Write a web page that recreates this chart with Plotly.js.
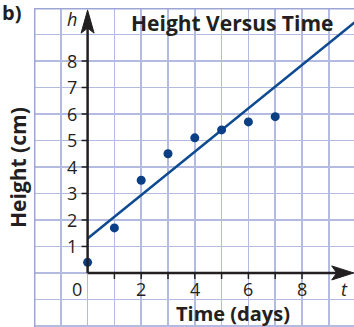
<!DOCTYPE html>
<html>
<head>
<meta charset="utf-8">
<script src="https://cdn.plot.ly/plotly-3.0.1.min.js"></script>
<style>html,body{margin:0;padding:0;background:#fff;}#chart{width:354px;height:327px;}</style>
</head>
<body>
<div id="chart"></div>
<script>
// Data
var days = [0, 1, 2, 3, 4, 5, 6, 7];
var heights = [0.4, 1.7, 3.5, 4.5, 5.1, 5.4, 5.7, 5.9];
// line of best fit (endpoints)
var fitDays = [0, 10.5];
var fitHeights = [1.3, 9.9];
// tick labels
var yTicks = [1, 2, 3, 4, 5, 6, 7, 8];
var xTickMarks = [1, 2, 3, 4, 5, 6, 7, 8];
var xTickLabels = [2, 4, 6, 8];

var ink = '#231f20';
var blue = '#0b3f85';
var gridCol = '#b3bbe0';
var borderCol = '#9da5d5';

var traces = [
  {x: fitDays, y: fitHeights, mode: 'lines', line: {color: '#0d4a8f', width: 2.5}, hoverinfo: 'skip', showlegend: false},
  {x: days, y: heights, mode: 'markers', marker: {color: blue, size: 9}, cliponaxis: false, showlegend: false}
];

var shapes = [];
// thick left and top border
shapes.push({type: 'line', xref: 'x', yref: 'paper', x0: -2, x1: -2, y0: 0, y1: 1, line: {color: borderCol, width: 3}});
shapes.push({type: 'line', xref: 'paper', yref: 'y', x0: 0, x1: 1, y0: 10, y1: 10, line: {color: borderCol, width: 3}});
// axes
shapes.push({type: 'line', xref: 'x', yref: 'y', x0: 0, x1: 9.3, y0: 0, y1: 0, line: {color: ink, width: 2.5}});
shapes.push({type: 'line', xref: 'x', yref: 'y', x0: 0, x1: 0, y0: 0, y1: 9.5, line: {color: ink, width: 2.5}});
// arrowheads (pixel paths anchored at the axis ends)
shapes.push({type: 'path', xref: 'x', yref: 'y', xsizemode: 'pixel', ysizemode: 'pixel', xanchor: 9.93, yanchor: 0,
  path: 'M 0 0 L -22 7 L -17 0 L -22 -7 Z', fillcolor: ink, line: {color: ink, width: 1}});
shapes.push({type: 'path', xref: 'x', yref: 'y', xsizemode: 'pixel', ysizemode: 'pixel', xanchor: 0, yanchor: 9.92,
  path: 'M 0 0 L -6.5 -23 L 0 -18 L 6.5 -23 Z', fillcolor: ink, line: {color: ink, width: 1}});
// tick marks
yTicks.forEach(function (v) {
  shapes.push({type: 'line', xref: 'x', yref: 'y', xsizemode: 'pixel', xanchor: 0, x0: -6, x1: 0, y0: v, y1: v, line: {color: ink, width: 1.5}});
});
xTickMarks.forEach(function (v) {
  shapes.push({type: 'line', xref: 'x', yref: 'y', ysizemode: 'pixel', yanchor: 0, y0: -6, y1: 0, x0: v, x1: v, line: {color: ink, width: 1.5}});
});

var tickFont = {family: 'Open Sans, sans-serif', size: 18, color: ink};
var boldFont = {family: 'Open Sans, sans-serif', size: 20, color: ink, weight: 'bold'};
var annotations = [];
yTicks.forEach(function (v) {
  annotations.push({x: 0, y: v, xref: 'x', yref: 'y', text: String(v), showarrow: false, xanchor: 'right', yanchor: 'middle', xshift: -9, font: tickFont});
});
xTickLabels.forEach(function (v) {
  annotations.push({x: v, y: 0, xref: 'x', yref: 'y', text: String(v), showarrow: false, xanchor: 'center', yanchor: 'top', yshift: -2, font: tickFont});
});
annotations.push({x: 0, y: 0, xref: 'x', yref: 'y', text: '0', showarrow: false, xanchor: 'right', yanchor: 'top', xshift: -4, yshift: -2, font: tickFont});
annotations.push({x: 0, y: 9.6, xref: 'x', yref: 'y', text: '<i>h</i>', showarrow: false, xanchor: 'right', yanchor: 'middle', xshift: -9, font: tickFont});
annotations.push({x: 9.6, y: 0, xref: 'x', yref: 'y', text: '<i>t</i>', showarrow: false, xanchor: 'center', yanchor: 'top', yshift: -2, font: tickFont});
annotations.push({x: 232, y: 23, text: 'Height Versus Time', showarrow: false, font: {family: 'Open Sans, sans-serif', size: 21, color: ink, weight: 'bold'}});
annotations.push({x: 233, y: 313.5, text: 'Time (days)', showarrow: false, font: boldFont});
annotations.push({x: 18, y: 168, text: 'Height (cm)', showarrow: false, textangle: -90, font: {family: 'Open Sans, sans-serif', size: 21, color: ink, weight: 'bold'}});
annotations.push({x: 11, y: 13, text: 'b)', showarrow: false, font: {family: 'Open Sans, sans-serif', size: 20, color: ink, weight: 'bold'}});

// convert pixel-positioned labels to paper coords
var W = 354, H = 327, L = 34, T = 8, R = 0, B = 0;
annotations.forEach(function (a) {
  if (a.xref === undefined || a.xref === 'paper') {
    a.xref = 'paper'; a.yref = 'paper';
    a.x = (a.x - L) / (W - L - R);
    a.y = 1 - (a.y - T) / (H - T - B);
    a.xanchor = 'center'; a.yanchor = 'middle';
  }
});

var layout = {
  width: W, height: H,
  margin: {l: L, r: R, t: T, b: B, pad: 0},
  paper_bgcolor: '#ffffff', plot_bgcolor: '#ffffff',
  xaxis: {range: [-2, 9.94], dtick: 1, tick0: 0, showgrid: true, gridcolor: gridCol, gridwidth: 1.5,
    zeroline: false, showticklabels: false, ticks: '', showline: false, fixedrange: true},
  yaxis: {range: [-2.04, 10], dtick: 1, tick0: 0, showgrid: true, gridcolor: gridCol, gridwidth: 1.5,
    zeroline: false, showticklabels: false, ticks: '', showline: false, fixedrange: true},
  shapes: shapes,
  annotations: annotations,
  showlegend: false
};

Plotly.newPlot('chart', traces, layout, {displayModeBar: false, staticPlot: true});
</script>
</body>
</html>
